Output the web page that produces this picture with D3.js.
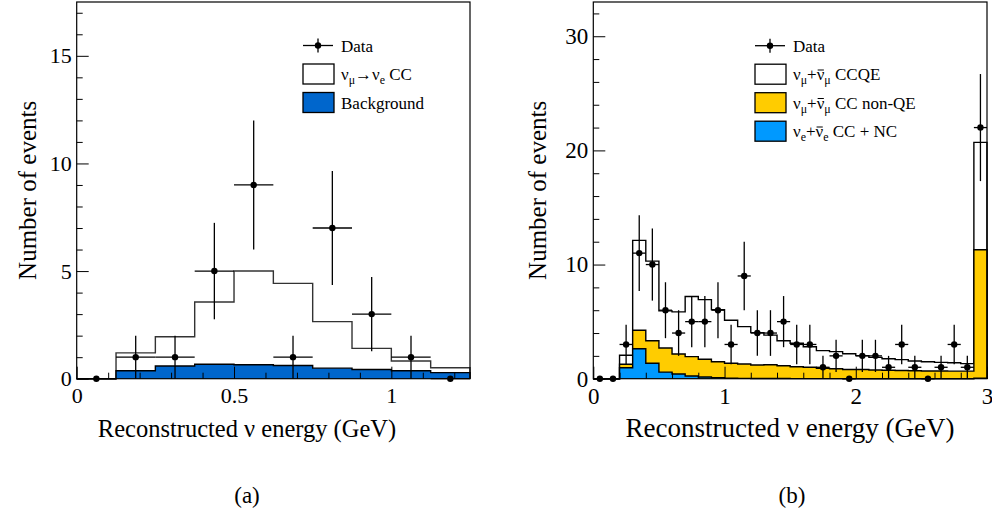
<!DOCTYPE html>
<html>
<head>
<meta charset="utf-8">
<script src="https://cdn.jsdelivr.net/npm/d3@7/dist/d3.min.js"></script>
<style>
  body { margin: 0; background: #fff; }
  text { font-family: "Liberation Serif", "Times New Roman", serif; fill: #000; white-space: pre; }
</style>
</head>
<body>
<div id="viz"></div>
<script>
// ---- panel (a): nu_mu -> nu_e search ----
var edgesA = [0, 0.125, 0.25, 0.375, 0.5, 0.625, 0.75, 0.875, 1.0, 1.125, 1.25];
var dataA  = [0, 1, 1, 5, 9, 1, 7, 3, 1, 0];
var errA   = [0, 1, 1, 2.24, 3, 1, 2.65, 1.73, 1, 0];
var bkgA   = [0, 0.37, 0.59, 0.67, 0.65, 0.61, 0.49, 0.43, 0.37, 0.28];
var sigA   = [0, 0.83, 1.36, 2.89, 4.35, 3.82, 2.16, 0.98, 0.45, 0.23];
var xMajorA = [0, 0.5, 1];
var xMinorA = [0.1, 0.2, 0.3, 0.4, 0.6, 0.7, 0.8, 0.9, 1.1, 1.2];
var yMajorA = [0, 5, 10, 15];
var yMinorA = [1, 2, 3, 4, 6, 7, 8, 9, 11, 12, 13, 14, 16, 17];

// ---- panel (b): nu_mu disappearance ----
var edgesB = [0, 0.1, 0.2, 0.3, 0.4, 0.5, 0.6, 0.7, 0.8, 0.9, 1.0, 1.1, 1.2, 1.3, 1.4, 1.5,
              1.6, 1.7, 1.8, 1.9, 2.0, 2.1, 2.2, 2.3, 2.4, 2.5, 2.6, 2.7, 2.8, 2.9, 3.0];
var dataB  = [0, 0, 3, 11, 10, 6, 4, 5, 5, 6, 3, 9, 4, 4, 5, 3, 3, 1, 2, 0, 2, 2, 1, 3, 1, 0, 1, 3, 1, 22];
var errB   = [0, 0, 1.73, 3.32, 3.16, 2.45, 2, 2.24, 2.24, 2.45, 1.73, 3, 2, 2, 2.24, 1.73, 1.73, 1, 1.41, 0,
              1.41, 1.41, 1, 1.73, 1, 0, 1, 1.73, 1, 4.69];
var nueB   = [0, 0, 0.96, 2.63, 1.35, 0.58, 0.41, 0.23, 0.15, 0.09, 0.04, 0.03, 0.02, 0.02, 0.02, 0.01,
              0.01, 0.01, 0.01, 0, 0, 0, 0, 0, 0, 0, 0, 0, 0, 0.05];
var nonqeB = [0, 0, 0.30, 1.61, 1.98, 2.11, 1.75, 1.70, 1.55, 1.40, 1.31, 1.26, 1.18, 1.20, 1.12, 1.04,
              0.99, 0.91, 0.86, 0.80, 0.80, 0.76, 0.74, 0.72, 0.70, 0.68, 0.67, 0.66, 0.66, 11.25];
var ccqeB  = [0, 0, 0.80, 7.88, 6.97, 3.25, 3.69, 5.27, 5.23, 4.56, 3.77, 3.27, 2.84, 2.60, 2.19, 2.05,
              1.80, 1.54, 1.50, 1.39, 1.22, 1.11, 1.01, 0.95, 0.85, 0.81, 0.76, 0.74, 0.66, 9.40];
var xMajorB = [0, 1, 2, 3];
var xMinorB = [0.2, 0.4, 0.6, 0.8, 1.2, 1.4, 1.6, 1.8, 2.2, 2.4, 2.6, 2.8];
var yMajorB = [0, 10, 20, 30];
var yMinorB = [2, 4, 6, 8, 12, 14, 16, 18, 22, 24, 26, 28, 32];

var svg = d3.select('#viz').append('svg')
  .attr('width', 992)
  .attr('height', 521);

// label parts: [text, kind] where kind is 'sub', 'bar' or undefined
function writeLabel(g, x, y, size, parts) {
  var t = g.append('text').attr('x', x).attr('y', y).attr('font-size', size);
  var bars = [];
  var idx = 0;
  var down = false;
  parts.forEach(function (p) {
    var s = t.append('tspan').text(p[0]);
    if (p[1] == 'sub') {
      s.attr('font-size', size * 0.7).attr('dy', down ? 0 : size * 0.25);
      down = true;
    } else {
      if (down) s.attr('dy', -size * 0.25);
      down = false;
      if (p[1] == 'bar') bars.push(idx);
    }
    idx += p[0].length;
  });
  // overline on the antineutrino symbols
  bars.forEach(function (i) {
    var box = t.node().getExtentOfChar(i);
    g.append('line')
      .attr('x1', box.x + 1).attr('x2', box.x + box.width - 0.5)
      .attr('y1', y - size * 0.6).attr('y2', y - size * 0.6)
      .attr('stroke', '#000').attr('stroke-width', 1);
  });
  return t;
}

function drawPanel(o) {
  var g = svg.append('g');
  var n = o.edges.length - 1;
  var x = d3.scaleLinear().domain([o.edges[0], o.edges[n]]).range([o.left, o.right]);
  var y = d3.scaleLinear().domain([0, o.yMax]).range([o.bottom, o.top]);

  function stepPath(vals) {
    var p = d3.path();
    p.moveTo(x(o.edges[0]), y(0));
    vals.forEach(function (v, i) {
      p.lineTo(x(o.edges[i]), y(v));
      p.lineTo(x(o.edges[i + 1]), y(v));
    });
    p.lineTo(x(o.edges[n]), y(0));
    return p.toString();
  }

  // stack layers bottom to top, then draw top (largest) first like THStack
  var cum = o.edges.slice(0, n).map(function () { return 0; });
  var layers = o.layers.map(function (l) {
    cum = cum.map(function (c, i) { return c + l.values[i]; });
    return { top: cum.slice(), fill: l.fill, line: l.line };
  });
  layers.reverse().forEach(function (l) {
    g.append('path')
      .attr('d', stepPath(l.top))
      .attr('fill', l.fill)
      .attr('stroke', l.line)
      .attr('stroke-width', 1.4)
      .attr('stroke-linejoin', 'miter');
  });

  // axes, ticks pointing inwards
  function axis(gen, vals, size, fmt, pad, tr) {
    var a = g.append('g')
      .attr('transform', tr)
      .style('font-size', o.tickFont + 'px')
      .call(gen.tickValues(vals).tickSize(-size).tickPadding(pad).tickFormat(fmt));
    a.select('.domain').remove();
    a.selectAll('text').attr('fill', '#000').style('font-family', '"Liberation Serif", serif');
    a.selectAll('line').attr('stroke', '#000').attr('stroke-width', 1);
    return a;
  }
  var bottomTr = 'translate(0,' + o.bottom + ')';
  var leftTr = 'translate(' + o.left + ',0)';
  axis(d3.axisBottom(x), o.xMajor, 12, function (d) { return d3.format('')(d); }, 9, bottomTr);
  axis(d3.axisBottom(x), o.xMinor, 6, '', 9, bottomTr);
  axis(d3.axisLeft(y), o.yMajor, 12, function (d) { return d; }, 5, leftTr);
  axis(d3.axisLeft(y), o.yMinor, 6, '', 5, leftTr);

  g.append('rect')
    .attr('x', o.left).attr('y', o.top)
    .attr('width', o.right - o.left).attr('height', o.bottom - o.top)
    .attr('fill', 'none').attr('stroke', '#000').attr('stroke-width', 1.2);

  // data with sqrt(N) errors
  var pts = g.append('g').attr('stroke', '#000').attr('stroke-width', 1.3);
  o.data.forEach(function (d, i) {
    var xc = x((o.edges[i] + o.edges[i + 1]) / 2);
    pts.append('line')
      .attr('x1', x(o.edges[i])).attr('x2', x(o.edges[i + 1]))
      .attr('y1', y(d)).attr('y2', y(d));
    if (o.err[i] > 0) {
      pts.append('line')
        .attr('x1', xc).attr('x2', xc)
        .attr('y1', y(d - o.err[i])).attr('y2', y(d + o.err[i]));
    }
    pts.append('circle').attr('cx', xc).attr('cy', y(d)).attr('r', 3.2)
      .attr('fill', '#000').attr('stroke', 'none');
  });

  // axis titles
  g.append('text')
    .attr('x', o.titleX).attr('y', o.titleY)
    .attr('text-anchor', 'middle')
    .attr('font-size', o.titleFont)
    .text('Reconstructed ν energy (GeV)');
  g.append('text')
    .attr('transform', 'translate(' + o.yTitleX + ',' + ((o.top + o.bottom) / 2) + ') rotate(-90)')
    .attr('text-anchor', 'middle')
    .attr('font-size', o.yTitleFont)
    .text('Number of events');

  g.append('text')
    .attr('x', o.capX).attr('y', 503)
    .attr('text-anchor', 'middle')
    .attr('font-size', 23)
    .text(o.caption);

  // legend
  var lg = g.append('g');
  var lx = o.legendX;
  lg.append('line').attr('x1', lx).attr('x2', lx + 30).attr('y1', o.legendY[0]).attr('y2', o.legendY[0])
    .attr('stroke', '#000').attr('stroke-width', 1.3);
  lg.append('line').attr('x1', lx + 15).attr('x2', lx + 15).attr('y1', o.legendY[0] - 7).attr('y2', o.legendY[0] + 7)
    .attr('stroke', '#000').attr('stroke-width', 1.3);
  lg.append('circle').attr('cx', lx + 15).attr('cy', o.legendY[0]).attr('r', 3.2).attr('fill', '#000');
  writeLabel(lg, lx + 38, o.legendY[0] + 6, 17, [['Data']]);
  o.legend.forEach(function (e, i) {
    var cy = o.legendY[i + 1];
    lg.append('rect')
      .attr('x', lx).attr('y', cy - 10).attr('width', 31).attr('height', 20)
      .attr('fill', e.fill).attr('stroke', '#000').attr('stroke-width', 1.3);
    writeLabel(lg, lx + 38, cy + 6, 17, e.parts);
  });
}

drawPanel({
  edges: edgesA, data: dataA, err: errA, yMax: 17.5,
  left: 76.7, right: 470, top: 2, bottom: 378.7,
  layers: [
    { values: bkgA, fill: '#0066cc', line: '#000' },
    { values: sigA, fill: '#fff', line: '#333' }
  ],
  xMajor: xMajorA, xMinor: xMinorA, yMajor: yMajorA, yMinor: yMinorA,
  tickFont: 22, titleFont: 24.5, yTitleFont: 25, titleX: 247, titleY: 437, yTitleX: 36,
  capX: 247, caption: '(a)',
  legendX: 303, legendY: [45.5, 74, 102.5],
  legend: [
    { fill: '#fff', parts: [['ν'], ['μ', 'sub'], ['→'], ['ν'], ['e', 'sub'], [' CC']] },
    { fill: '#0066cc', parts: [['Background']] }
  ]
});

drawPanel({
  edges: edgesB, data: dataB, err: errB, yMax: 33,
  left: 593.3, right: 987, top: 2, bottom: 378.7,
  layers: [
    { values: nueB, fill: '#0099ff', line: '#000' },
    { values: nonqeB, fill: '#ffcc00', line: '#000' },
    { values: ccqeB, fill: '#fff', line: '#000' }
  ],
  xMajor: xMajorB, xMinor: xMinorB, yMajor: yMajorB, yMinor: yMinorB,
  tickFont: 23, titleFont: 27, yTitleFont: 25, titleX: 790, titleY: 437, yTitleX: 546,
  capX: 792, caption: '(b)',
  legendX: 755, legendY: [45.7, 74.2, 102.7, 131.2],
  legend: [
    { fill: '#fff', parts: [['ν'], ['μ', 'sub'], ['+'], ['ν', 'bar'], ['μ', 'sub'], [' CCQE']] },
    { fill: '#ffcc00', parts: [['ν'], ['μ', 'sub'], ['+'], ['ν', 'bar'], ['μ', 'sub'], [' CC non-QE']] },
    { fill: '#0099ff', parts: [['ν'], ['e', 'sub'], ['+'], ['ν', 'bar'], ['e', 'sub'], [' CC + NC']] }
  ]
});
</script>
</body>
</html>
